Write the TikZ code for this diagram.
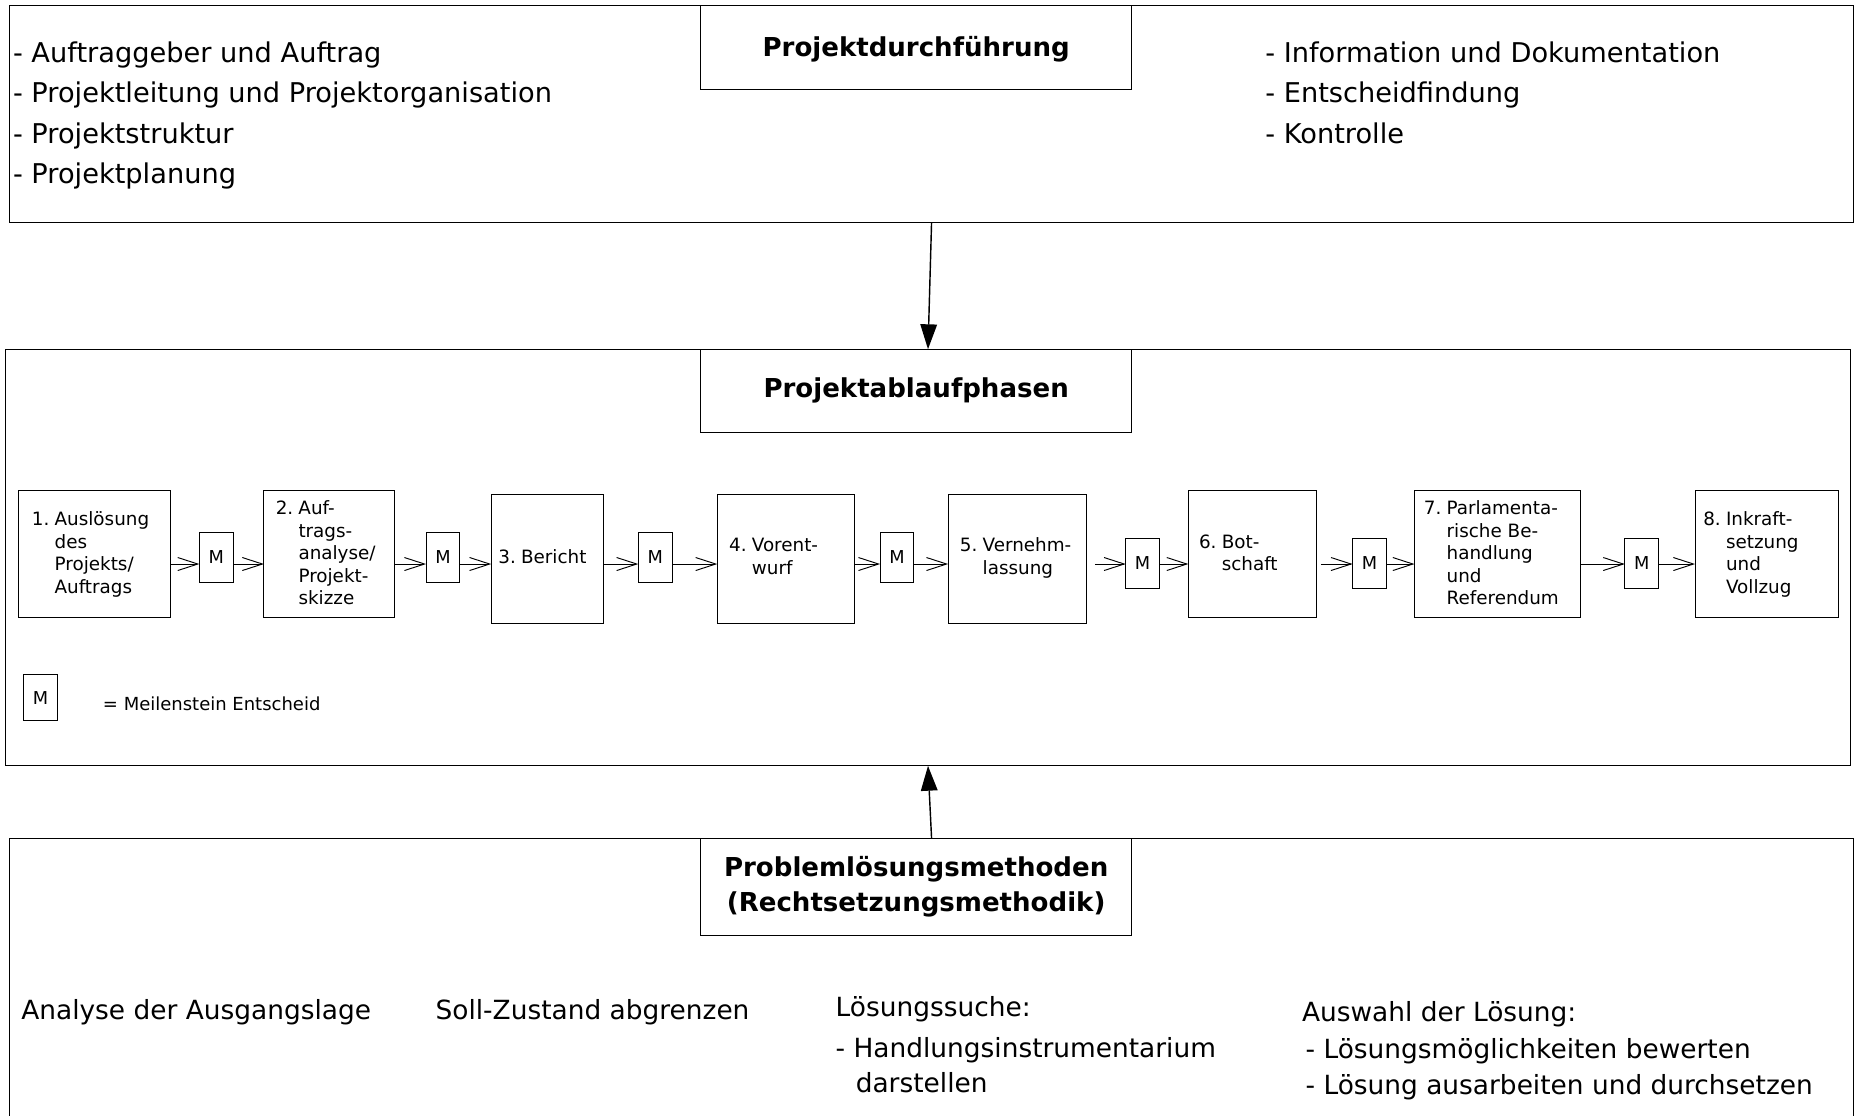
\documentclass[tikz,border=0pt]{standalone}
\usepackage{fontspec}
\setmainfont{DejaVu Sans}
\usetikzlibrary{arrows.meta}
\begin{document}
\begin{tikzpicture}[x=1pt,y=-1pt,
  every node/.style={inner sep=0pt, outer sep=0pt},
  frame/.style={draw, line width=0.9pt},
  headbox/.style={frame, minimum width=364pt, align=center,
    font=\bfseries\fontsize{22}{29}\selectfont},
  headtext/.style={font=\bfseries\fontsize{22}{29}\selectfont},
  bigtext/.style={anchor=base west, font=\fontsize{22.3}{30}\selectfont},
  toptext/.style={anchor=base west, font=\fontsize{23}{30}\selectfont},
  smalltext/.style={font=\fontsize{15.5}{19}\selectfont},
  phasetext/.style={smalltext, anchor=west},
  mbox/.style={frame, font=\fontsize{15}{18}\selectfont, minimum width=28.5pt, minimum height=42pt},
  flow/.style={line width=0.8pt, -{Straight Barb[length=17pt,width=11pt]}},
  bigarrow/.style={line width=1.2pt, -{Triangle[length=21pt,width=14pt]}},
]
\useasboundingbox (0,0) rectangle (1568,942);

% ---------- Projektdurchführung ----------
\node[frame, minimum width=1558pt, minimum height=183pt] (exec) at (787,96.5) {};
\node[frame, minimum width=364pt, minimum height=71pt] (h1) at (774,40.5) {};
\node[headtext] (h1t) at (774,41.5) {Projektdurchführung};
\node[toptext] (tl1) at (11,53)  {- Auftraggeber und Auftrag};
\node[toptext] (tl2) at (11,87)  {- Projektleitung und Projektorganisation};
\node[toptext] (tl3) at (11,121) {- Projektstruktur};
\node[toptext] (tl4) at (11,155) {- Projektplanung};
\node[toptext] (tr1) at (1069,53)  {- Information und Dokumentation};
\node[toptext] (tr2) at (1069,87)  {- Entscheidfindung};
\node[toptext] (tr3) at (1069,121) {- Kontrolle};

% ---------- Projektablaufphasen ----------
\node[frame, minimum width=1558pt, minimum height=352pt] (phases) at (784,471) {};
\node[headbox, minimum height=70pt] (h2) at (774,330) {Projektablaufphasen};

% phase boxes
\node[frame, minimum width=128pt, minimum height=108pt] (p1) at (80,468) {};
\node[frame, minimum width=110pt, minimum height=108pt] (p2) at (278,468) {};
\node[frame, minimum width=95pt,  minimum height=109pt] (p3) at (462.5,472) {};
\node[frame, minimum width=116pt, minimum height=109pt] (p4) at (664,472) {};
\node[frame, minimum width=117pt, minimum height=109pt] (p5) at (859.5,472) {};
\node[frame, minimum width=108pt, minimum height=108pt] (p6) at (1058,468) {};
\node[frame, minimum width=140pt, minimum height=108pt] (p7) at (1265,468) {};
\node[frame, minimum width=121pt, minimum height=108pt] (p8) at (1492.5,468) {};

% phase labels
\node[phasetext] (t1) at (27,469) {\begin{tabular}{@{}l@{\hspace{4.4pt}}l@{}}1.&Auslösung\\&des\\&Projekts/\\&Auftrags\end{tabular}};
\node[phasetext] (t2) at (233,469) {\begin{tabular}{@{}l@{\hspace{4.4pt}}l@{}}2.&Auf-\\&trags-\\&analyse/\\&Projekt-\\&skizze\end{tabular}};
\node[phasetext] (t3) at (421,472) {\begin{tabular}{@{}l@{\hspace{4.4pt}}l@{}}3.&Bericht\end{tabular}};
\node[phasetext] (t4) at (616,472) {\begin{tabular}{@{}l@{\hspace{4.4pt}}l@{}}4.&Vorent-\\&wurf\end{tabular}};
\node[phasetext] (t5) at (811,472) {\begin{tabular}{@{}l@{\hspace{4.4pt}}l@{}}5.&Vernehm-\\&lassung\end{tabular}};
\node[phasetext] (t6) at (1013,469) {\begin{tabular}{@{}l@{\hspace{4.4pt}}l@{}}6.&Bot-\\&schaft\end{tabular}};
\node[phasetext] (t7) at (1203,469) {\begin{tabular}{@{}l@{\hspace{4.4pt}}l@{}}7.&Parlamenta-\\&rische Be-\\&handlung\\&und\\&Referendum\end{tabular}};
\node[phasetext] (t8) at (1439,469) {\begin{tabular}{@{}l@{\hspace{4.4pt}}l@{}}8.&Inkraft-\\&setzung\\&und\\&Vollzug\end{tabular}};

% milestones
\node[mbox] (m1) at (182.7,471) {M};
\node[mbox] (m2) at (374.2,471) {M};
\node[mbox] (m3) at (553.5,471) {M};
\node[mbox] (m4) at (757.8,471) {M};
\node[mbox] (m5) at (965.3,476) {M};
\node[mbox] (m6) at (1157,476) {M};
\node[mbox] (m7) at (1387,476) {M};

% flow of the phases
\coordinate (flowy) at (0,476.5);
\draw[flow] (p1.east |- flowy) -- (m1.west |- flowy);
\draw[flow] (m1.east |- flowy) -- (p2.west |- flowy);
\draw[flow] (p2.east |- flowy) -- (m2.west |- flowy);
\draw[flow] (m2.east |- flowy) -- (p3.west |- flowy);
\draw[flow] (p3.east |- flowy) -- (m3.west |- flowy);
\draw[flow] (m3.east |- flowy) -- (p4.west |- flowy);
\draw[flow] (p4.east |- flowy) -- (m4.west |- flowy);
\draw[flow] (m4.east |- flowy) -- (p5.west |- flowy);
\draw[flow, shorten <=7pt] (p5.east |- flowy) -- (m5.west |- flowy);
\draw[flow] (m5.east |- flowy) -- (p6.west |- flowy);
\draw[flow, shorten <=4pt] (p6.east |- flowy) -- (m6.west |- flowy);
\draw[flow] (m6.east |- flowy) -- (p7.west |- flowy);
\draw[flow] (p7.east |- flowy) -- (m7.west |- flowy);
\draw[flow] (m7.east |- flowy) -- (p8.west |- flowy);

% legend
\node[mbox, minimum height=39pt] (legm) at (34.2,589.5) {M};
\node[anchor=base west, font=\fontsize{15.2}{18}\selectfont] (legt) at (87,600) {= Meilenstein Entscheid};

% ---------- Problemlösungsmethoden ----------
\node[minimum width=1558pt, minimum height=236pt] (methods) at (787,826) {};
\draw[line width=0.9pt] (methods.south west) -- (methods.north west)
  -- (methods.north east) -- (methods.south east);
\node[headbox, minimum height=82pt] (h3) at (774,749)
  {Problemlösungsmethoden\\(Rechtsetzungsmethodik)};
\node[bigtext] (b1) at (18,861)  {Analyse der Ausgangslage};
\node[bigtext] (b2) at (368,861) {Soll-Zustand abgrenzen};
\node[bigtext] (b3) at (706,859) {Lösungssuche:};
\node[bigtext] (b4) at (706,893) {- Handlungsinstrumentarium};
\node[bigtext] (b5) at (723,923) {darstellen};
\node[bigtext] (b6) at (1100,863) {Auswahl der Lösung:};
\node[bigtext] (b7) at (1103,894) {- Lösungsmöglichkeiten bewerten};
\node[bigtext] (b8) at (1103,925) {- Lösung ausarbeiten und durchsetzen};

% ---------- links between the levels ----------
\draw[bigarrow] (exec.south) -- (phases.north);
\draw[bigarrow] (methods.north) -- (phases.south);
\end{tikzpicture}
\end{document}
